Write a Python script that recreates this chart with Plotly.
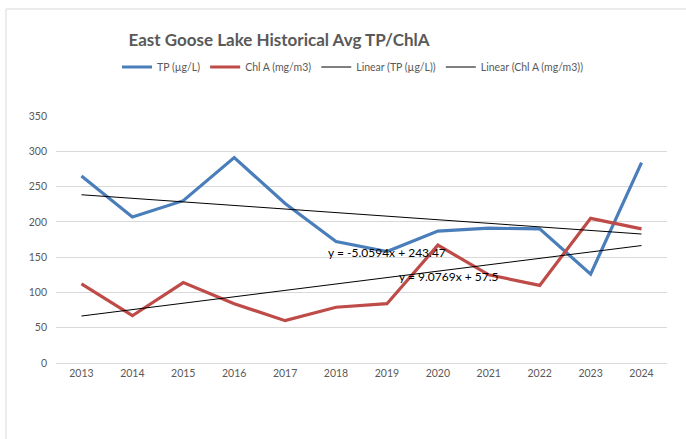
import plotly.graph_objects as go

years = ["2013", "2014", "2015", "2016", "2017", "2018", "2019", "2020", "2021", "2022", "2023", "2024"]
tp = [265, 207, 230, 291, 226, 172, 158, 187, 191, 190, 126, 284]
chla = [112, 67, 114, 84, 60, 79, 84, 167, 125, 110, 205, 190]
tp_slope, tp_icpt = -5.0594, 243.47
chl_slope, chl_icpt = 9.0769, 57.5
tp_eq = "y = -5.0594x + 243.47"
chl_eq = "y = 9.0769x + 57.5"

idx = list(range(1, len(years) + 1))
tp_trend = [tp_slope * i + tp_icpt for i in idx]
chl_trend = [chl_slope * i + chl_icpt for i in idx]

W, H = 686, 439
ml, mr, mt, mb = 56, 19, 116, 76
pw, ph = W - ml - mr, H - mt - mb

def px_x(p):
    return (p - ml) / pw

def px_y(p):
    return (H - mb - p) / ph

fig = go.Figure()
fig.add_trace(go.Scatter(x=idx, y=tp, mode="lines", name="TP (µg/L)",
                         line=dict(color="#4a7ebb", width=3.2)))
fig.add_trace(go.Scatter(x=idx, y=chla, mode="lines", name="Chl A (mg/m3)",
                         line=dict(color="#be4b48", width=3.2)))
fig.add_trace(go.Scatter(x=idx, y=tp_trend, mode="lines", name="Linear (TP (µg/L))",
                         line=dict(color="black", width=1)))
fig.add_trace(go.Scatter(x=idx, y=chl_trend, mode="lines", name="Linear (Chl A (mg/m3))",
                         line=dict(color="black", width=1)))

fig.add_annotation(x=7.0, y=157, text=tp_eq, showarrow=False,
                   font=dict(family="Lato, Liberation Sans", size=12, color="black"))
fig.add_annotation(x=8.2, y=122, text=chl_eq, showarrow=False,
                   font=dict(family="Lato, Liberation Sans", size=12, color="black"))

fig.add_shape(type="rect", xref="paper", yref="paper",
              x0=px_x(6), x1=px_x(700), y0=px_y(450), y1=px_y(9),
              line=dict(color="#d9d9d9", width=1), fillcolor="rgba(0,0,0,0)", layer="below")

fig.update_layout(
    width=W, height=H,
    margin=dict(l=ml, r=mr, t=mt, b=mb),
    paper_bgcolor="white", plot_bgcolor="white",
    font=dict(family="Lato, Liberation Sans", color="#595959", size=11),
    title=dict(text="<b>East Goose Lake Historical Avg TP/ChlA</b>",
               x=279 / W, xanchor="center",
               y=1 - 40 / H, yanchor="middle",
               font=dict(family="Lato, Liberation Sans", size=17, color="#595959")),
    legend=dict(orientation="h", x=px_x(353), xanchor="center",
                y=px_y(67), yanchor="middle",
                font=dict(size=10.5, color="#595959"), itemwidth=30,
                traceorder="normal"),
    showlegend=True,
)
fig.update_xaxes(range=[0.5, 12.5], tickvals=idx, ticktext=years,
                 showgrid=False, showline=True, linecolor="#d9d9d9",
                 ticks="", tickfont=dict(size=10.5, color="#595959"), zeroline=False)
fig.update_yaxes(range=[0, 350], dtick=50, showgrid=True, gridcolor="#d9d9d9",
                 zeroline=False, showline=False, ticks="",
                 tickfont=dict(size=10.5, color="#595959"), ticklabelstandoff=8)

fig.write_html("out.html", config={"displayModeBar": False},
               post_script="document.body.style.margin='0';document.body.style.overflow='hidden';")
